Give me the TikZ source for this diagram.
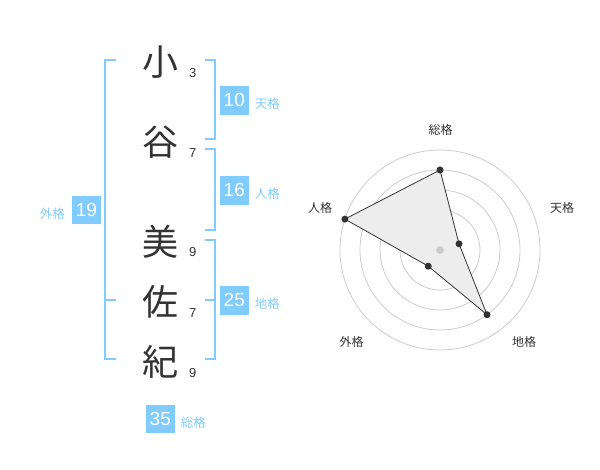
\documentclass[tikz,border=0pt]{standalone}
\usepackage{fontspec}
\setmainfont{Liberation Sans}
\newfontfamily\jp{Noto Sans CJK JP}
\usetikzlibrary{positioning}
\definecolor{kaku}{HTML}{80CCFF}
\definecolor{ink}{HTML}{333333}

\begin{document}
\begin{tikzpicture}[x=1pt, y=1pt, node distance=6pt,
                    name node/.style={font=\jp\fontsize{36}{36}\selectfont,text=ink,inner sep=0pt},
                    stroke node/.style={font=\fontsize{13}{13}\selectfont,text=ink,inner sep=0pt},
                    score node/.style={fill=kaku,text=white,minimum size=28.5pt,inner sep=0pt,font=\fontsize{19}{19}\selectfont},
                    kaku label/.style={font=\jp\fontsize{12.5}{12.5}\selectfont,text=kaku,inner sep=0pt,yshift=-3.5pt},
                    bracket/.style={draw=kaku,line width=2pt},
                    ring/.style={draw=black!20,line width=0.8pt},
                    axis label/.style={font=\jp\fontsize{12}{12}\selectfont,text=ink,inner sep=0pt},
                    dot/.style={circle,fill=ink,inner sep=0pt,minimum size=7pt}]
  \useasboundingbox (0,0) rectangle (600,-470);
  % name
  \node[name node] (k1) at (160,-61.7) {小};
  \node[name node] (k2) at (160,-141.7) {谷};
  \node[name node] (k3) at (160,-241.7) {美};
  \node[name node] (k4) at (160,-301.7) {佐};
  \node[name node] (k5) at (160,-361.7) {紀};
  \node[stroke node] (s1) at (192.7,-73.3) {3};
  \node[stroke node] (s2) at (192.7,-152.7) {7};
  \node[stroke node] (s3) at (192.7,-252.3) {9};
  \node[stroke node] (s4) at (192.7,-313.3) {7};
  \node[stroke node] (s5) at (192.7,-372.7) {9};
  % brackets
  \draw[bracket] (116,-60) -- (105,-60) -- (105,-359.3) -- (116,-359.3);
  \draw[bracket] (105,-300) -- (116,-300);
  \draw[bracket] (205,-60) -- (215,-60) -- (215,-139.3) -- (205,-139.3);
  \draw[bracket] (205,-149.3) -- (215,-149.3) -- (215,-230) -- (205,-230);
  \draw[bracket] (205,-240) -- (215,-240) -- (215,-359.3) -- (205,-359.3);
  \draw[bracket] (205,-300) -- (215,-300);
  % scores
  \node[score node] (ten) at (234.3,-100.3) {10};
  \node[score node] (jin) at (234.3,-190.3) {16};
  \node[score node] (chi) at (234.3,-300.3) {25};
  \node[score node] (gai) at (86.5,-210) {19};
  \node[score node] (sou) at (160.3,-419.2) {35};
  \node[kaku label, right=of ten] (ten label) {天格};
  \node[kaku label, right=of jin] (jin label) {人格};
  \node[kaku label, right=of chi] (chi label) {地格};
  \node[kaku label, left=7pt of gai] (gai label) {外格};
  \node[kaku label, right=of sou] (sou label) {総格};
  % radar
  \begin{scope}[shift={(440,-250)}]
    \foreach \r in {20,40,60,80,100}
      \draw[ring] (0,0) circle (\r pt);
    \coordinate (c) at (0,0);
    \coordinate (p sou) at (90:80);
    \coordinate (p ten) at (18:20);
    \coordinate (p chi) at (-54:80);
    \coordinate (p gai) at (-126:20);
    \coordinate (p jin) at (162:100);
    \fill[black!7] (p sou) -- (p ten) -- (p chi) -- (p gai) -- (p jin) -- cycle;
    \fill[black!20] (c) circle (4pt);
    \draw[ink, line width=0.8pt] (p sou) -- (p ten) -- (p chi) -- (p gai) -- (p jin) -- cycle;
    \foreach \p in {sou,ten,chi,gai,jin}
      \node[dot] at (p \p) {};
  \end{scope}
  \node[axis label] (a sou) at (440.7,-130) {総格};
  \node[axis label] (a ten) at (562,-208) {天格};
  \node[axis label] (a jin) at (320,-208) {人格};
  \node[axis label] (a chi) at (524,-341.7) {地格};
  \node[axis label] (a gai) at (351.7,-341.7) {外格};
\end{tikzpicture}
\end{document}
